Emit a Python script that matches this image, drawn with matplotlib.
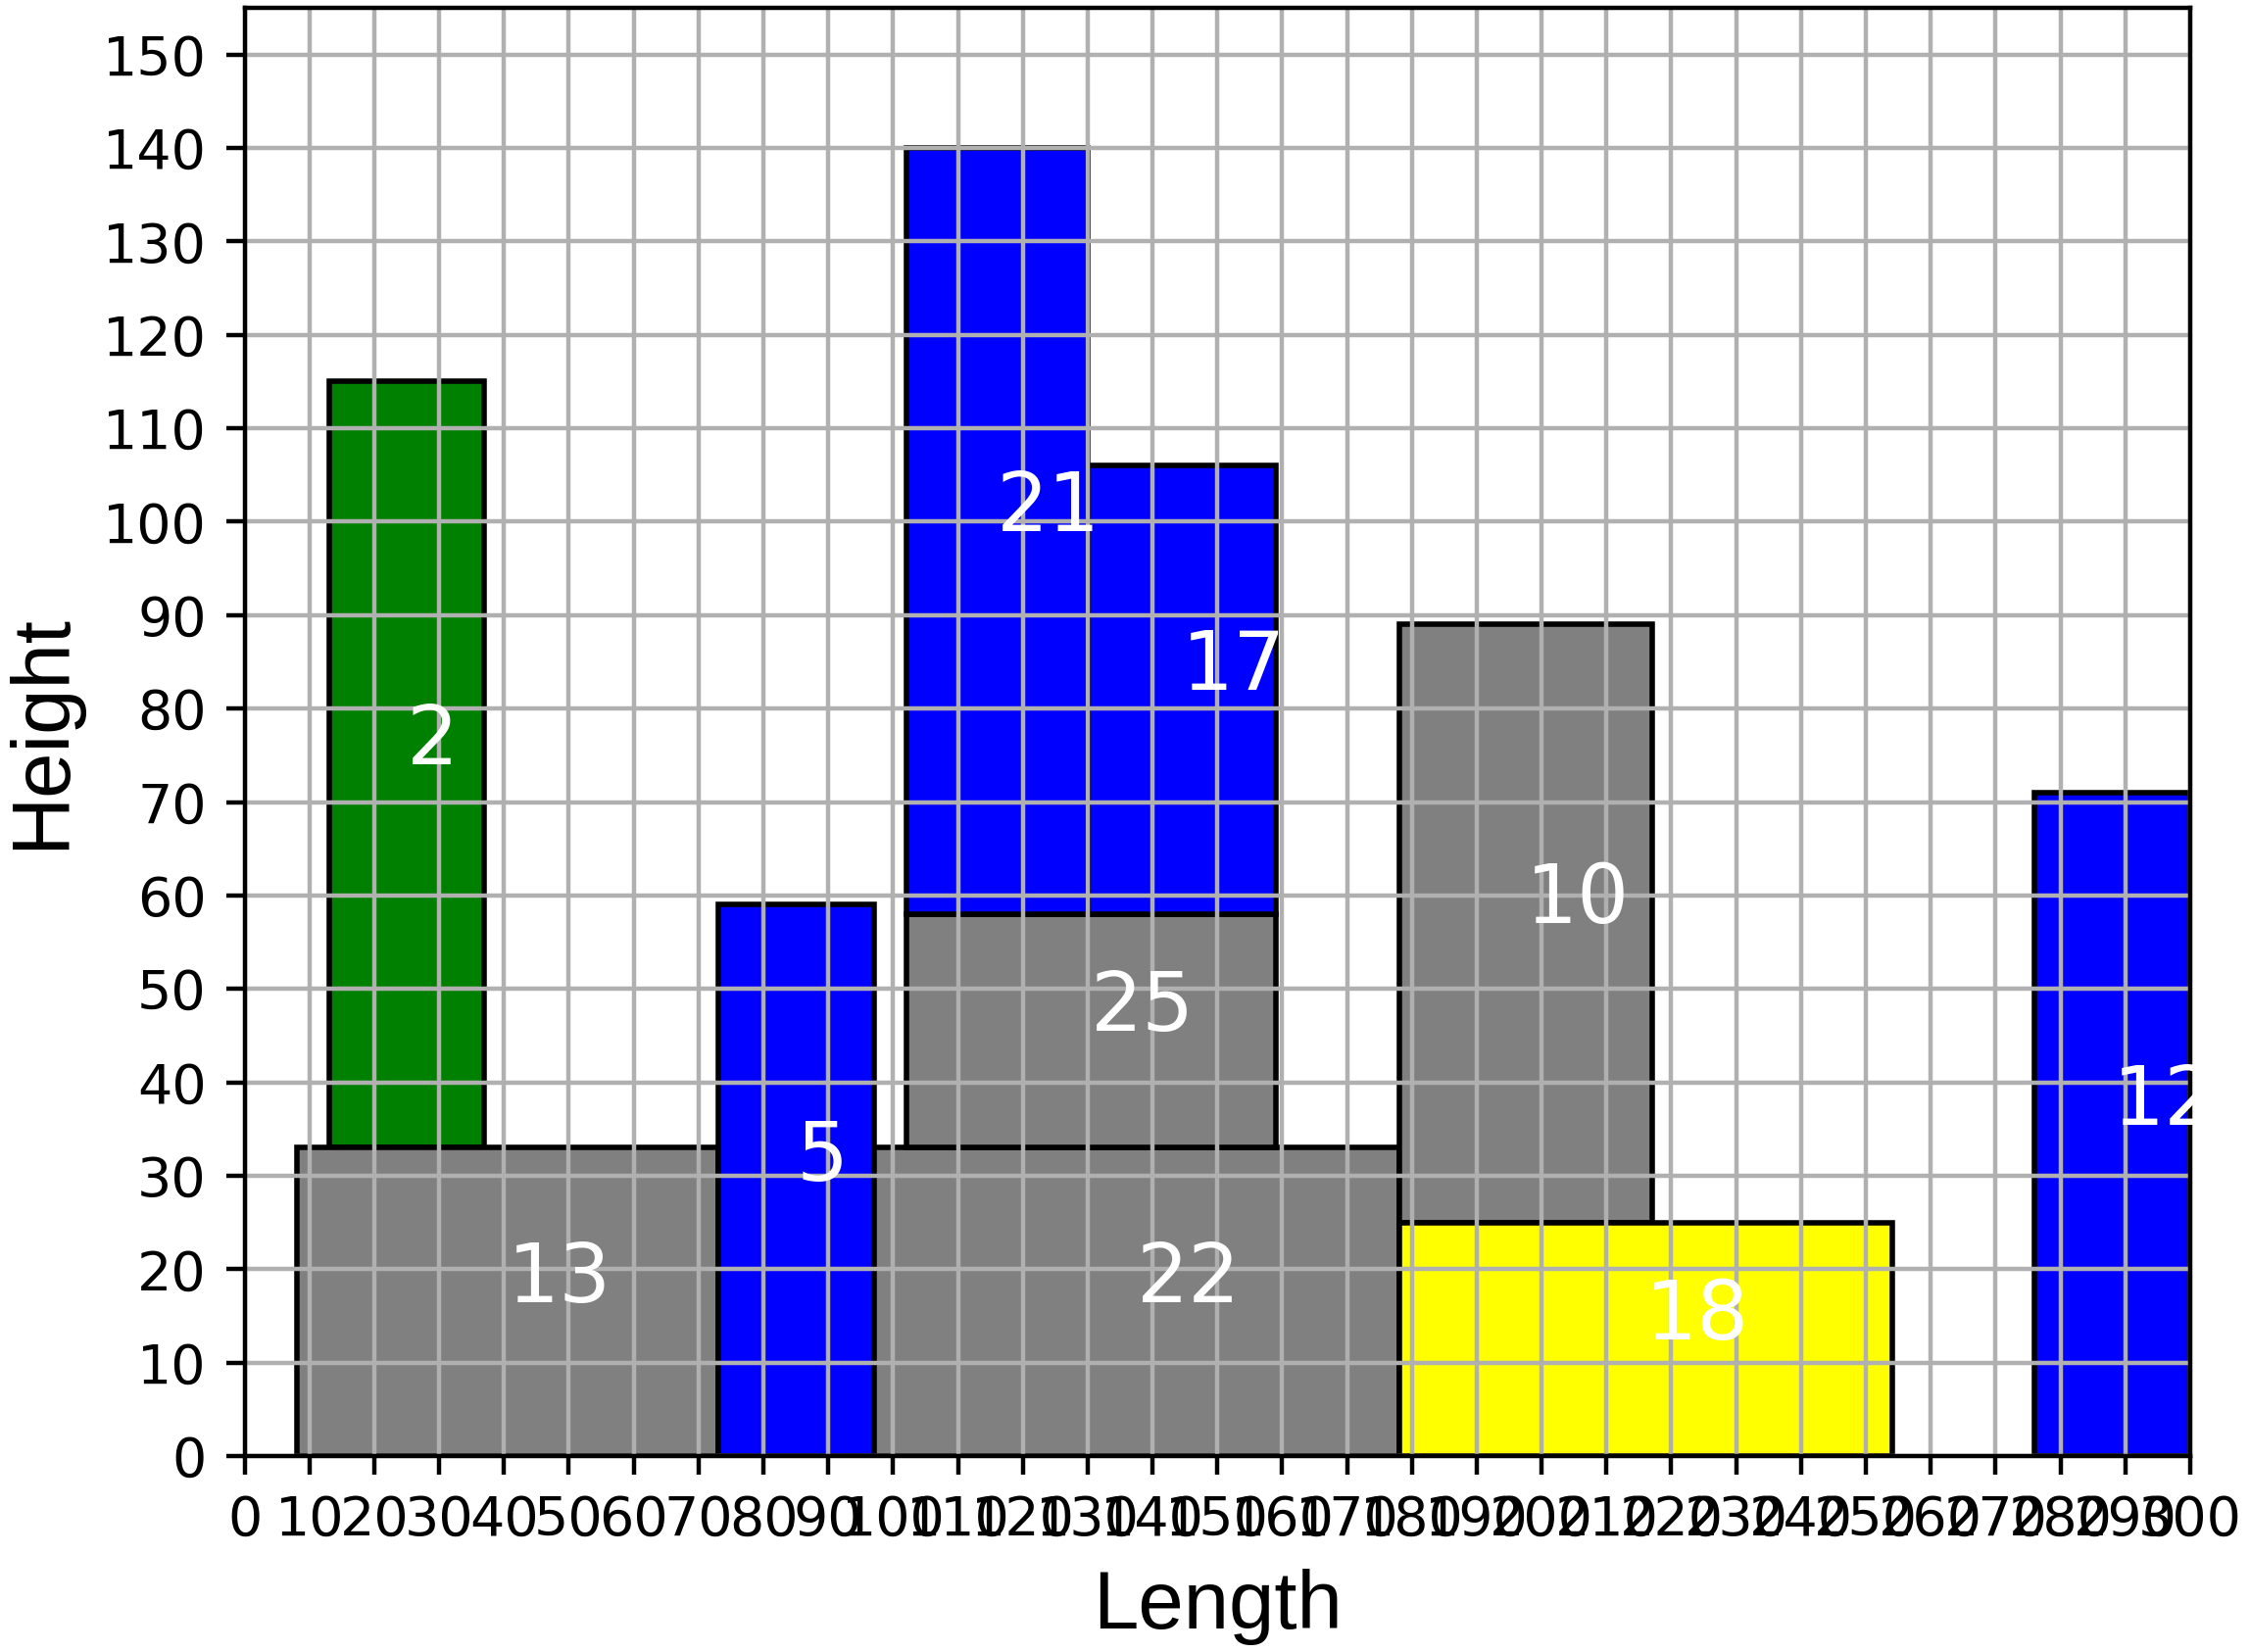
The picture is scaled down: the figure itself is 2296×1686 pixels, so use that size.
import matplotlib.pyplot as plt
from matplotlib.patches import Rectangle

# Rectangles packed into a 300 x 155 container
labels = [2, 13, 5, 22, 25, 21, 17, 10, 18, 12]
xs = [13, 8, 73, 97, 102, 102, 130, 178, 178, 276]
ys = [33, 0, 0, 0, 33, 58, 58, 25, 0, 0]
widths = [24, 65, 24, 81, 57, 28, 29, 39, 76, 24]
heights = [82, 33, 59, 33, 25, 82, 48, 64, 25, 71]
colors = ['green', 'gray', 'blue', 'gray', 'gray', 'blue', 'blue', 'gray', 'yellow', 'blue']

bin_w, bin_h = 300, 155

fig = plt.figure(figsize=(2296 / 400, 1686 / 400), dpi=400)
ax = fig.add_axes([0.1087, 0.1186, 0.9734 - 0.1087, 0.9953 - 0.1186])

# container outline
ax.add_patch(Rectangle((0, 0), bin_w, bin_h, fill=False, edgecolor='red', linewidth=0.3))

for lab, x, y, w, h, c in zip(labels, xs, ys, widths, heights, colors):
    ax.add_patch(Rectangle((x, y), w, h, facecolor=c, edgecolor='black', linewidth=1))
    ax.text(x + w / 2, y + h / 2, str(lab), color='white', fontsize=15, clip_on=False)

ax.set_xlim(0, bin_w)
ax.set_ylim(0, bin_h)
ax.set_xticks(range(0, bin_w + 1, 10))
ax.set_yticks(range(0, 151, 10))
ax.tick_params(labelsize=10)
ax.grid(True)
ax.set_xlabel('Length', fontsize=15, family='Liberation Sans')
ax.set_ylabel('Height', fontsize=15, family='Liberation Sans')

fig.savefig('out.png', dpi=400)
